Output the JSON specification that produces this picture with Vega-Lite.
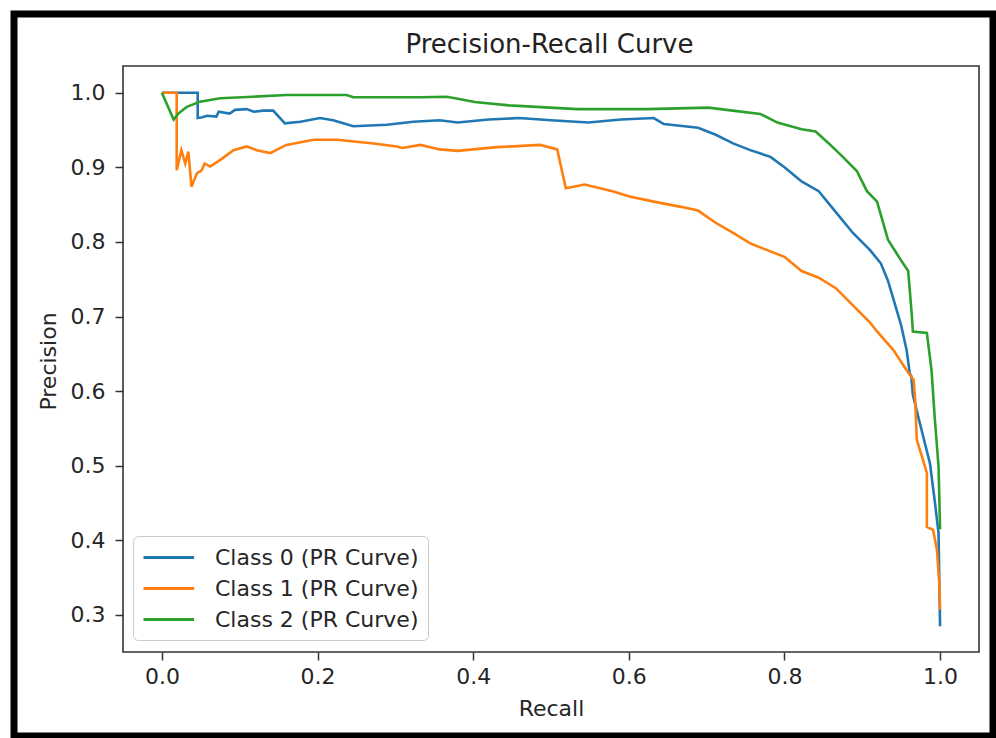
{
  "$schema": "https://vega.github.io/schema/vega-lite/v6.json",
  "width": 979,
  "height": 722,
  "autosize": {"type": "none"},
  "padding": {"left": 14, "top": 14, "right": 3, "bottom": 2},
  "background": "white",
  "title": {"text": "Precision-Recall Curve", "fontSize": 26, "font": "DejaVu Sans", "fontWeight": "normal", "color": "#222222", "anchor": "middle", "frame": "group", "offset": -65, "dx": 46, "baseline": "alphabetic"},
  "config": {"view": {"stroke": "black", "strokeWidth": 7, "fill": "white"}, "font": "DejaVu Sans"},
  "datasets": {
    "pr": [
      {"series": "Class 0 (PR Curve)", "recall": 0.0, "precision": 1.0},
      {"series": "Class 0 (PR Curve)", "recall": 0.046, "precision": 1.0},
      {"series": "Class 0 (PR Curve)", "recall": 0.046, "precision": 0.966},
      {"series": "Class 0 (PR Curve)", "recall": 0.052, "precision": 0.967},
      {"series": "Class 0 (PR Curve)", "recall": 0.058, "precision": 0.969},
      {"series": "Class 0 (PR Curve)", "recall": 0.070, "precision": 0.968},
      {"series": "Class 0 (PR Curve)", "recall": 0.073, "precision": 0.9745},
      {"series": "Class 0 (PR Curve)", "recall": 0.087, "precision": 0.972},
      {"series": "Class 0 (PR Curve)", "recall": 0.094, "precision": 0.977},
      {"series": "Class 0 (PR Curve)", "recall": 0.109, "precision": 0.978},
      {"series": "Class 0 (PR Curve)", "recall": 0.118, "precision": 0.9745},
      {"series": "Class 0 (PR Curve)", "recall": 0.130, "precision": 0.976},
      {"series": "Class 0 (PR Curve)", "recall": 0.143, "precision": 0.976},
      {"series": "Class 0 (PR Curve)", "recall": 0.158, "precision": 0.959},
      {"series": "Class 0 (PR Curve)", "recall": 0.178, "precision": 0.961},
      {"series": "Class 0 (PR Curve)", "recall": 0.203, "precision": 0.966},
      {"series": "Class 0 (PR Curve)", "recall": 0.220, "precision": 0.963},
      {"series": "Class 0 (PR Curve)", "recall": 0.246, "precision": 0.955},
      {"series": "Class 0 (PR Curve)", "recall": 0.289, "precision": 0.957},
      {"series": "Class 0 (PR Curve)", "recall": 0.323, "precision": 0.961},
      {"series": "Class 0 (PR Curve)", "recall": 0.357, "precision": 0.963},
      {"series": "Class 0 (PR Curve)", "recall": 0.380, "precision": 0.960},
      {"series": "Class 0 (PR Curve)", "recall": 0.420, "precision": 0.964},
      {"series": "Class 0 (PR Curve)", "recall": 0.459, "precision": 0.966},
      {"series": "Class 0 (PR Curve)", "recall": 0.500, "precision": 0.963},
      {"series": "Class 0 (PR Curve)", "recall": 0.548, "precision": 0.960},
      {"series": "Class 0 (PR Curve)", "recall": 0.590, "precision": 0.964},
      {"series": "Class 0 (PR Curve)", "recall": 0.632, "precision": 0.966},
      {"series": "Class 0 (PR Curve)", "recall": 0.645, "precision": 0.958},
      {"series": "Class 0 (PR Curve)", "recall": 0.689, "precision": 0.953},
      {"series": "Class 0 (PR Curve)", "recall": 0.711, "precision": 0.944},
      {"series": "Class 0 (PR Curve)", "recall": 0.734, "precision": 0.932},
      {"series": "Class 0 (PR Curve)", "recall": 0.756, "precision": 0.923},
      {"series": "Class 0 (PR Curve)", "recall": 0.782, "precision": 0.914},
      {"series": "Class 0 (PR Curve)", "recall": 0.800, "precision": 0.900},
      {"series": "Class 0 (PR Curve)", "recall": 0.822, "precision": 0.881},
      {"series": "Class 0 (PR Curve)", "recall": 0.844, "precision": 0.868},
      {"series": "Class 0 (PR Curve)", "recall": 0.866, "precision": 0.840},
      {"series": "Class 0 (PR Curve)", "recall": 0.888, "precision": 0.812},
      {"series": "Class 0 (PR Curve)", "recall": 0.910, "precision": 0.789},
      {"series": "Class 0 (PR Curve)", "recall": 0.924, "precision": 0.771},
      {"series": "Class 0 (PR Curve)", "recall": 0.933, "precision": 0.748},
      {"series": "Class 0 (PR Curve)", "recall": 0.941, "precision": 0.720},
      {"series": "Class 0 (PR Curve)", "recall": 0.950, "precision": 0.688},
      {"series": "Class 0 (PR Curve)", "recall": 0.957, "precision": 0.655},
      {"series": "Class 0 (PR Curve)", "recall": 0.961, "precision": 0.624},
      {"series": "Class 0 (PR Curve)", "recall": 0.963, "precision": 0.620},
      {"series": "Class 0 (PR Curve)", "recall": 0.965, "precision": 0.595},
      {"series": "Class 0 (PR Curve)", "recall": 0.974, "precision": 0.557},
      {"series": "Class 0 (PR Curve)", "recall": 0.987, "precision": 0.503},
      {"series": "Class 0 (PR Curve)", "recall": 0.993, "precision": 0.454},
      {"series": "Class 0 (PR Curve)", "recall": 0.998, "precision": 0.410},
      {"series": "Class 0 (PR Curve)", "recall": 0.999, "precision": 0.345},
      {"series": "Class 0 (PR Curve)", "recall": 1.0, "precision": 0.285},

      {"series": "Class 1 (PR Curve)", "recall": 0.0, "precision": 1.0},
      {"series": "Class 1 (PR Curve)", "recall": 0.019, "precision": 1.0},
      {"series": "Class 1 (PR Curve)", "recall": 0.019, "precision": 0.896},
      {"series": "Class 1 (PR Curve)", "recall": 0.025, "precision": 0.923},
      {"series": "Class 1 (PR Curve)", "recall": 0.030, "precision": 0.905},
      {"series": "Class 1 (PR Curve)", "recall": 0.034, "precision": 0.921},
      {"series": "Class 1 (PR Curve)", "recall": 0.038, "precision": 0.874},
      {"series": "Class 1 (PR Curve)", "recall": 0.045, "precision": 0.892},
      {"series": "Class 1 (PR Curve)", "recall": 0.051, "precision": 0.896},
      {"series": "Class 1 (PR Curve)", "recall": 0.055, "precision": 0.905},
      {"series": "Class 1 (PR Curve)", "recall": 0.062, "precision": 0.901},
      {"series": "Class 1 (PR Curve)", "recall": 0.075, "precision": 0.910},
      {"series": "Class 1 (PR Curve)", "recall": 0.092, "precision": 0.923},
      {"series": "Class 1 (PR Curve)", "recall": 0.109, "precision": 0.928},
      {"series": "Class 1 (PR Curve)", "recall": 0.122, "precision": 0.923},
      {"series": "Class 1 (PR Curve)", "recall": 0.139, "precision": 0.919},
      {"series": "Class 1 (PR Curve)", "recall": 0.160, "precision": 0.930},
      {"series": "Class 1 (PR Curve)", "recall": 0.195, "precision": 0.937},
      {"series": "Class 1 (PR Curve)", "recall": 0.225, "precision": 0.937},
      {"series": "Class 1 (PR Curve)", "recall": 0.272, "precision": 0.932},
      {"series": "Class 1 (PR Curve)", "recall": 0.302, "precision": 0.928},
      {"series": "Class 1 (PR Curve)", "recall": 0.309, "precision": 0.926},
      {"series": "Class 1 (PR Curve)", "recall": 0.332, "precision": 0.930},
      {"series": "Class 1 (PR Curve)", "recall": 0.357, "precision": 0.924},
      {"series": "Class 1 (PR Curve)", "recall": 0.380, "precision": 0.922},
      {"series": "Class 1 (PR Curve)", "recall": 0.430, "precision": 0.927},
      {"series": "Class 1 (PR Curve)", "recall": 0.486, "precision": 0.930},
      {"series": "Class 1 (PR Curve)", "recall": 0.508, "precision": 0.924},
      {"series": "Class 1 (PR Curve)", "recall": 0.519, "precision": 0.872},
      {"series": "Class 1 (PR Curve)", "recall": 0.543, "precision": 0.877},
      {"series": "Class 1 (PR Curve)", "recall": 0.579, "precision": 0.868},
      {"series": "Class 1 (PR Curve)", "recall": 0.601, "precision": 0.861},
      {"series": "Class 1 (PR Curve)", "recall": 0.632, "precision": 0.854},
      {"series": "Class 1 (PR Curve)", "recall": 0.667, "precision": 0.847},
      {"series": "Class 1 (PR Curve)", "recall": 0.689, "precision": 0.842},
      {"series": "Class 1 (PR Curve)", "recall": 0.711, "precision": 0.826},
      {"series": "Class 1 (PR Curve)", "recall": 0.734, "precision": 0.812},
      {"series": "Class 1 (PR Curve)", "recall": 0.756, "precision": 0.798},
      {"series": "Class 1 (PR Curve)", "recall": 0.778, "precision": 0.789},
      {"series": "Class 1 (PR Curve)", "recall": 0.800, "precision": 0.780},
      {"series": "Class 1 (PR Curve)", "recall": 0.822, "precision": 0.761},
      {"series": "Class 1 (PR Curve)", "recall": 0.844, "precision": 0.752},
      {"series": "Class 1 (PR Curve)", "recall": 0.866, "precision": 0.738},
      {"series": "Class 1 (PR Curve)", "recall": 0.888, "precision": 0.715},
      {"series": "Class 1 (PR Curve)", "recall": 0.910, "precision": 0.692},
      {"series": "Class 1 (PR Curve)", "recall": 0.919, "precision": 0.680},
      {"series": "Class 1 (PR Curve)", "recall": 0.940, "precision": 0.655},
      {"series": "Class 1 (PR Curve)", "recall": 0.957, "precision": 0.628},
      {"series": "Class 1 (PR Curve)", "recall": 0.966, "precision": 0.615},
      {"series": "Class 1 (PR Curve)", "recall": 0.968, "precision": 0.588},
      {"series": "Class 1 (PR Curve)", "recall": 0.970, "precision": 0.535},
      {"series": "Class 1 (PR Curve)", "recall": 0.978, "precision": 0.508},
      {"series": "Class 1 (PR Curve)", "recall": 0.983, "precision": 0.490},
      {"series": "Class 1 (PR Curve)", "recall": 0.983, "precision": 0.418},
      {"series": "Class 1 (PR Curve)", "recall": 0.991, "precision": 0.414},
      {"series": "Class 1 (PR Curve)", "recall": 0.996, "precision": 0.387},
      {"series": "Class 1 (PR Curve)", "recall": 0.999, "precision": 0.342},
      {"series": "Class 1 (PR Curve)", "recall": 1.0, "precision": 0.307},

      {"series": "Class 2 (PR Curve)", "recall": 0.0, "precision": 1.0},
      {"series": "Class 2 (PR Curve)", "recall": 0.015, "precision": 0.964},
      {"series": "Class 2 (PR Curve)", "recall": 0.021, "precision": 0.972},
      {"series": "Class 2 (PR Curve)", "recall": 0.032, "precision": 0.981},
      {"series": "Class 2 (PR Curve)", "recall": 0.049, "precision": 0.988},
      {"series": "Class 2 (PR Curve)", "recall": 0.075, "precision": 0.9925},
      {"series": "Class 2 (PR Curve)", "recall": 0.117, "precision": 0.9946},
      {"series": "Class 2 (PR Curve)", "recall": 0.160, "precision": 0.997},
      {"series": "Class 2 (PR Curve)", "recall": 0.2375, "precision": 0.997},
      {"series": "Class 2 (PR Curve)", "recall": 0.246, "precision": 0.994},
      {"series": "Class 2 (PR Curve)", "recall": 0.332, "precision": 0.994},
      {"series": "Class 2 (PR Curve)", "recall": 0.366, "precision": 0.9946},
      {"series": "Class 2 (PR Curve)", "recall": 0.375, "precision": 0.993},
      {"series": "Class 2 (PR Curve)", "recall": 0.402, "precision": 0.9875},
      {"series": "Class 2 (PR Curve)", "recall": 0.446, "precision": 0.983},
      {"series": "Class 2 (PR Curve)", "recall": 0.534, "precision": 0.978},
      {"series": "Class 2 (PR Curve)", "recall": 0.623, "precision": 0.978},
      {"series": "Class 2 (PR Curve)", "recall": 0.7025, "precision": 0.980},
      {"series": "Class 2 (PR Curve)", "recall": 0.7335, "precision": 0.976},
      {"series": "Class 2 (PR Curve)", "recall": 0.769, "precision": 0.9715},
      {"series": "Class 2 (PR Curve)", "recall": 0.791, "precision": 0.960},
      {"series": "Class 2 (PR Curve)", "recall": 0.822, "precision": 0.951},
      {"series": "Class 2 (PR Curve)", "recall": 0.840, "precision": 0.948},
      {"series": "Class 2 (PR Curve)", "recall": 0.857, "precision": 0.932},
      {"series": "Class 2 (PR Curve)", "recall": 0.875, "precision": 0.914},
      {"series": "Class 2 (PR Curve)", "recall": 0.893, "precision": 0.895},
      {"series": "Class 2 (PR Curve)", "recall": 0.906, "precision": 0.868},
      {"series": "Class 2 (PR Curve)", "recall": 0.919, "precision": 0.854},
      {"series": "Class 2 (PR Curve)", "recall": 0.933, "precision": 0.803},
      {"series": "Class 2 (PR Curve)", "recall": 0.950, "precision": 0.775},
      {"series": "Class 2 (PR Curve)", "recall": 0.959, "precision": 0.761},
      {"series": "Class 2 (PR Curve)", "recall": 0.9635, "precision": 0.704},
      {"series": "Class 2 (PR Curve)", "recall": 0.965, "precision": 0.680},
      {"series": "Class 2 (PR Curve)", "recall": 0.983, "precision": 0.678},
      {"series": "Class 2 (PR Curve)", "recall": 0.989, "precision": 0.628},
      {"series": "Class 2 (PR Curve)", "recall": 0.993, "precision": 0.566},
      {"series": "Class 2 (PR Curve)", "recall": 0.998, "precision": 0.499},
      {"series": "Class 2 (PR Curve)", "recall": 1.0, "precision": 0.415}
    ]
  },
  "layer": [
    {
      "data": {"name": "pr"},
      "mark": {"type": "line", "strokeWidth": 2.6, "interpolate": "linear"},
      "encoding": {
        "x": {
          "field": "recall", "type": "quantitative",
          "scale": {"domain": [-0.19007, 1.06799], "nice": false, "zero": false},
          "axis": {
            "orient": "bottom", "offset": -84, "values": [0, 0.2, 0.4, 0.6, 0.8, 1.0], "format": ".1f",
            "domain": false, "grid": false, "tickSize": 8, "tickWidth": 1.5, "tickColor": "#333333",
            "labelFont": "DejaVu Sans", "labelFontSize": 22, "labelColor": "#262626", "labelPadding": 6,
            "labelFlush": false, "labelOverlap": false,
            "title": "Recall", "titleFont": "DejaVu Sans", "titleFontSize": 22, "titleFontWeight": "normal", "titleColor": "#262626",
            "titleX": 537, "titleY": 63, "titleBaseline": "alphabetic", "titleAlign": "center"
          }
        },
        "y": {
          "field": "precision", "type": "quantitative",
          "scale": {"domain": [0.13778, 1.10548], "nice": false, "zero": false},
          "axis": {
            "orient": "left", "offset": -109, "values": [0.3, 0.4, 0.5, 0.6, 0.7, 0.8, 0.9, 1.0], "format": ".1f",
            "domain": false, "grid": false, "tickSize": 8, "tickWidth": 1.5, "tickColor": "#333333",
            "labelFont": "DejaVu Sans", "labelFontSize": 22, "labelColor": "#262626", "labelPadding": 10,
            "labelFlush": false, "labelOverlap": false,
            "title": "Precision", "titleFont": "DejaVu Sans", "titleFontSize": 22, "titleFontWeight": "normal", "titleColor": "#262626",
            "titleX": -68, "titleY": 347, "titleAngle": 270, "titleBaseline": "alphabetic", "titleAlign": "center"
          }
        },
        "color": {
          "field": "series", "type": "nominal",
          "scale": {"domain": ["Class 0 (PR Curve)", "Class 1 (PR Curve)", "Class 2 (PR Curve)"], "range": ["#1f77b4", "#ff7f0e", "#2ca02c"]},
          "legend": {
            "title": null, "orient": "none", "legendX": 119, "legendY": 522,
            "symbolType": "M-1,0H3.6", "symbolSize": 484, "symbolStrokeWidth": 3,
            "labelFont": "DejaVu Sans", "labelFontSize": 22, "labelColor": "#262626", "labelLimit": 400,
            "labelOffset": 48, "rowPadding": 7, "padding": 9,
            "fillColor": "white", "strokeColor": "#cccccc", "cornerRadius": 5
          }
        },
        "order": {"value": null}
      }
    },
    {
      "data": {"values": [{}]},
      "mark": {"type": "rect", "filled": false, "stroke": "#333333", "strokeWidth": 1.6},
      "encoding": {
        "x": {"datum": -0.05, "type": "quantitative"},
        "x2": {"datum": 1.05},
        "y": {"datum": 0.2504, "type": "quantitative"},
        "y2": {"datum": 1.0358}
      }
    }
  ]
}
